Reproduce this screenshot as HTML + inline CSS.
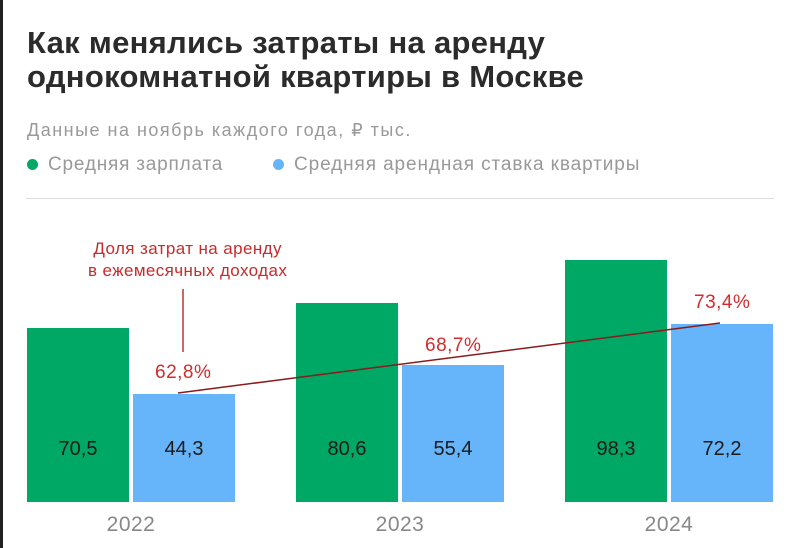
<!DOCTYPE html><html><head><meta charset="utf-8"><style>
body{margin:0;width:800px;height:548px;background:#fff;position:relative;overflow:hidden;font-family:"Liberation Sans","DejaVu Sans",sans-serif}
.a{position:absolute;white-space:nowrap}
.b{position:absolute;bottom:46px}
.g{background:#00a865}.l{background:#66b4fa}
.v{position:absolute;font-size:20px;color:#1a1a1a;width:102px;text-align:center;top:438px}
.y{position:absolute;font-size:21px;color:#888;width:120px;text-align:center;top:513px;letter-spacing:0.5px}
.p{position:absolute;font-size:19px;color:#d42b2b;letter-spacing:0.5px}
</style></head><body>
<div style="position:absolute;left:0;top:0;width:3px;height:548px;background:#222"></div>
<div class="a" style="left:27px;top:26px;font-size:31px;font-weight:bold;color:#2b2b2b;line-height:34px;letter-spacing:0.3px">Как менялись затраты на аренду<br>однокомнатной квартиры в Москве</div>
<div class="a" style="left:27px;top:120px;font-size:18px;color:#999;letter-spacing:1.5px">Данные на ноябрь каждого года, ₽ тыс.</div>
<div class="a" style="left:27px;top:154px;font-size:19px;color:#999;letter-spacing:0.8px"><span style="display:inline-block;width:11px;height:11px;border-radius:50%;background:#00a865;margin-right:10px"></span>Средняя зарплата</div>
<div class="a" style="left:273px;top:154px;font-size:19px;color:#999;letter-spacing:0.9px"><span style="display:inline-block;width:11px;height:11px;border-radius:50%;background:#66b4fa;margin-right:10px"></span>Средняя арендная ставка квартиры</div>
<div style="position:absolute;left:26px;right:26px;top:198px;height:1px;background:#ddd"></div>
<div class="b g" style="left:27px;width:102px;height:174px"></div>
<div class="b l" style="left:133px;width:102px;height:108px"></div>
<div class="b g" style="left:296px;width:102px;height:199px"></div>
<div class="b l" style="left:402px;width:102px;height:137px"></div>
<div class="b g" style="left:565px;width:102px;height:242px"></div>
<div class="b l" style="left:671px;width:102px;height:178px"></div>
<div class="v" style="left:27px">70,5</div><div class="v" style="left:133px">44,3</div>
<div class="v" style="left:296px">80,6</div><div class="v" style="left:402px">55,4</div>
<div class="v" style="left:565px">98,3</div><div class="v" style="left:671px">72,2</div>
<div class="y" style="left:71px">2022</div><div class="y" style="left:340px">2023</div><div class="y" style="left:609px">2024</div>
<svg style="position:absolute;left:0;top:0" width="800" height="548"><line x1="178" y1="393" x2="720" y2="323" stroke="#8b1a1a" stroke-width="1.5"/><line x1="183" y1="289" x2="183" y2="352" stroke="#c0392b" stroke-width="1.5"/></svg>
<div class="a" style="left:88px;top:238px;font-size:17px;color:#c92a2a;line-height:22px;text-align:center;letter-spacing:0.4px">Доля затрат на аренду<br>в ежемесячных доходах</div>
<div class="p" style="left:155px;top:362px">62,8%</div>
<div class="p" style="left:425px;top:335px">68,7%</div>
<div class="p" style="left:694px;top:292px">73,4%</div>
</body></html>
